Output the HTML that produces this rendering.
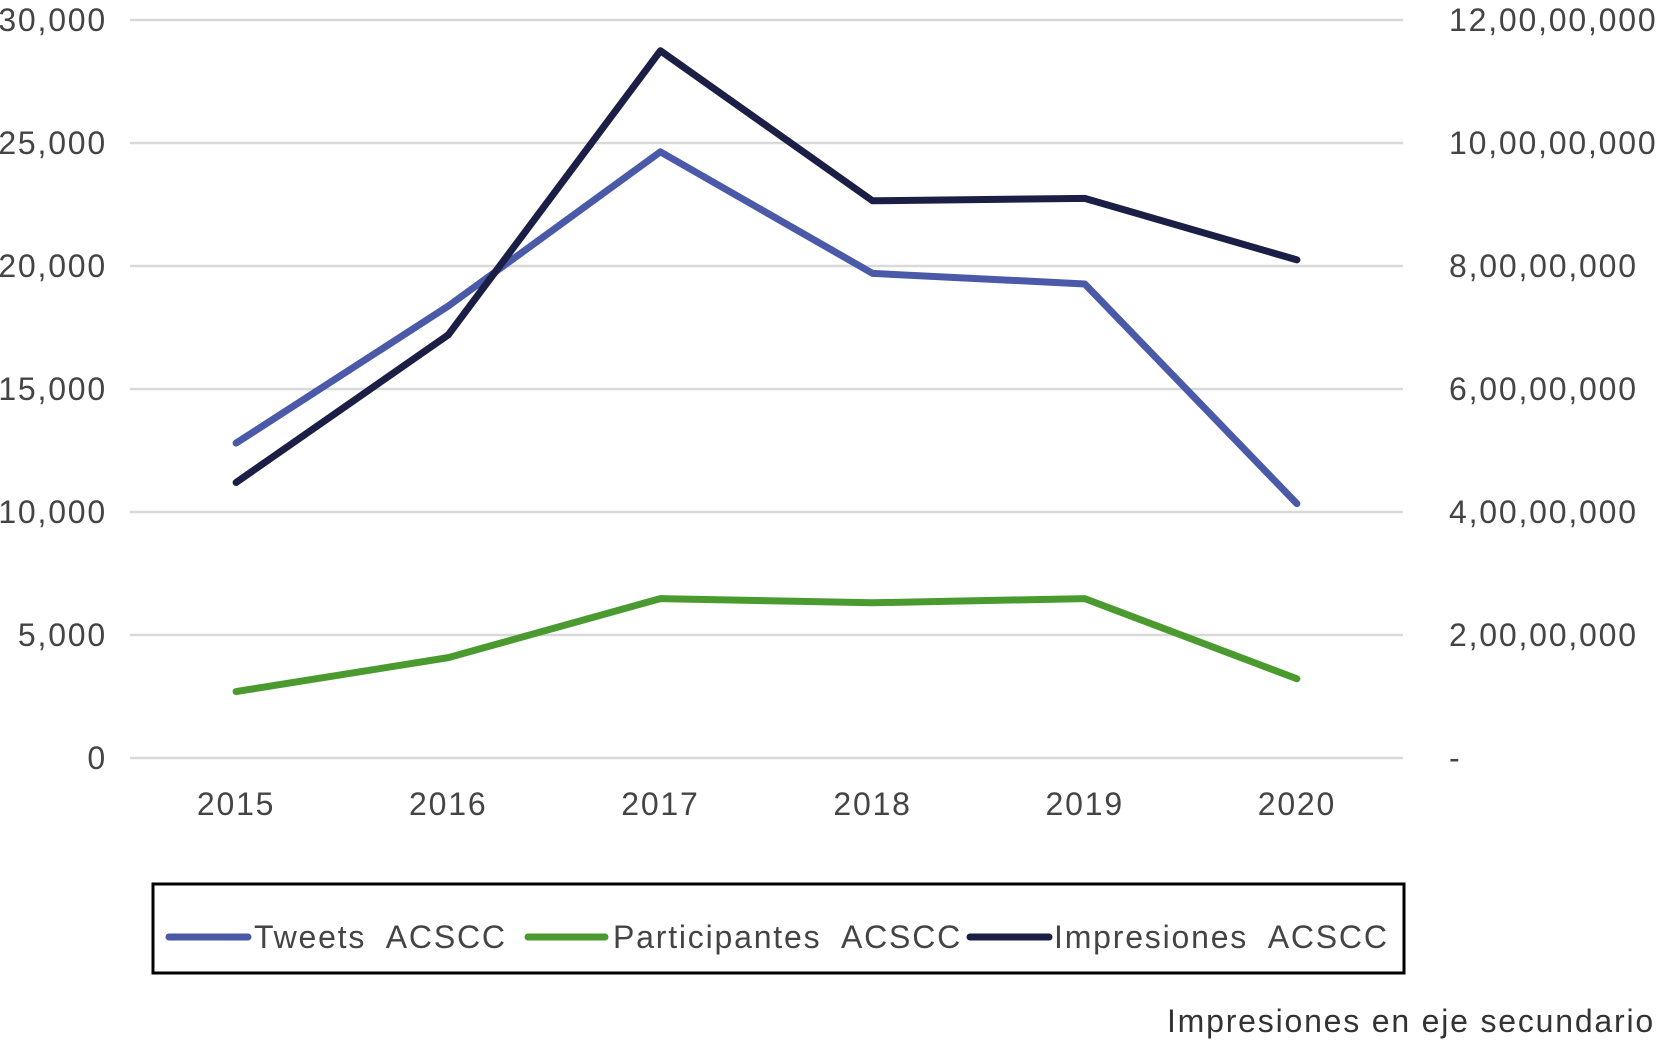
<!DOCTYPE html>
<html><head><meta charset="utf-8"><style>
html,body{margin:0;padding:0;background:#fff;}
svg{display:block;font-family:"Liberation Sans",Arial,sans-serif;}
text{letter-spacing:1.8px;}
</style></head><body>
<svg id="chart" width="1658" height="1041" viewBox="0 0 1658 1041">
<g id="grid"></g>
<g id="yl"></g>
<g id="yr"></g>
<g id="xl"></g>
<g id="series"></g>
<g>
<rect x="153" y="884" width="1251" height="89" fill="none" stroke="#000" stroke-width="3"/>
<line x1="169" y1="937" x2="248" y2="937" stroke="#4a5aa8" stroke-width="7" stroke-linecap="round"/>
<text x="254" y="948" font-size="32" fill="#444" xml:space="preserve">Tweets  ACSCC</text>
<line x1="528" y1="937" x2="605" y2="937" stroke="#4a9a30" stroke-width="7" stroke-linecap="round"/>
<text x="613" y="948" font-size="32" fill="#444" xml:space="preserve">Participantes  ACSCC</text>
<line x1="970" y1="937" x2="1049" y2="937" stroke="#1c1f45" stroke-width="7" stroke-linecap="round"/>
<text x="1054" y="948" font-size="32" fill="#444" xml:space="preserve">Impresiones  ACSCC</text>
</g>
<text x="1655" y="1032" font-size="32" fill="#333" text-anchor="end">Impresiones en eje secundario</text>
</svg>
<script>
const categories=["2015","2016","2017","2018","2019","2020"];
const tweets=[12800,18370,24640,19700,19270,10340];
const participantes=[2700,4080,6480,6310,6480,3220];
const impresiones=[44800000,68800000,115000000,90600000,91000000,81000000];
const leftTicks=[0,5000,10000,15000,20000,25000,30000];
const leftLabels=["0","5,000","10,000","15,000","20,000","25,000","30,000"];
const rightTicks=[0,20000000,40000000,60000000,80000000,100000000,120000000];
const rightLabels=["-","2,00,00,000","4,00,00,000","6,00,00,000","8,00,00,000","10,00,00,000","12,00,00,000"];
const NS="http://www.w3.org/2000/svg";
const X0=130,X1=1403,Y0=758,Y1=20;
const yL=v=>Y0-(v/30000)*(Y0-Y1);
const yR=v=>Y0-(v/120000000)*(Y0-Y1);
const xS=i=>X0+(X1-X0)/categories.length*(i+0.5);
function mk(tag,attrs,parent){const e=document.createElementNS(NS,tag);for(const k in attrs)e.setAttribute(k,attrs[k]);parent.appendChild(e);return e;}
const grid=document.getElementById('grid'),yl=document.getElementById('yl'),yr=document.getElementById('yr'),xl=document.getElementById('xl'),ser=document.getElementById('series');
leftTicks.forEach((t,i)=>{
 const l=mk('line',{x1:X0,x2:X1,y1:yL(t),y2:yL(t),stroke:'#d9d9d9','stroke-width':2.5},grid);
 
 
 const tx=mk('text',{x:107,y:yL(t)+11,'font-size':32,fill:'#444','text-anchor':'end'},yl);
 tx.textContent=leftLabels[i];
 
 
});
rightTicks.forEach((t,i)=>{
 const tx=mk('text',{x:1449,y:yR(t)+11,'font-size':32,fill:'#444'},yr);
 tx.textContent=rightLabels[i];
 
 
});
categories.forEach((c,i)=>{
 const tx=mk('text',{x:xS(i),y:815,'font-size':32,fill:'#444','text-anchor':'middle'},xl);
 tx.textContent=c;
 
 
});
function line(vals,sc,color,name){
 const p=mk('polyline',{points:vals.map((v,i)=>xS(i)+','+sc(v)).join(' '),fill:'none',stroke:color,'stroke-width':7,'stroke-linejoin':'round','stroke-linecap':'round'},ser);
 
 
}
line(participantes,yL,'#4a9a30','participantes-line');
line(tweets,yL,'#4a5aa8','tweets-line');
line(impresiones,yR,'#1c1f45','impresiones-line');
</script>
</body></html>
